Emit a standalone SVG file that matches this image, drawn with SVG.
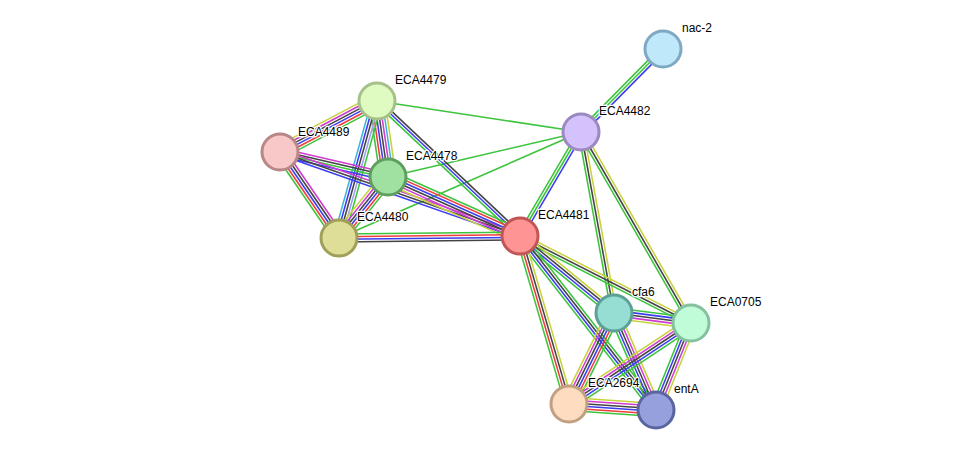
<svg xmlns="http://www.w3.org/2000/svg" width="976" height="456" viewBox="0 0 976 456">
<style>
.e path{fill:none;stroke-width:1.3}
.g{stroke:#3cc43c}.r{stroke:#f03c3c}.b{stroke:#3c3cf0}.k{stroke:#444444}.m{stroke:#d03cd0}.c{stroke:#3cb4dc}.y{stroke:#c8d23c}.l{stroke:#a0a0f0}
.n circle{stroke-width:3}
text{font-family:"Liberation Sans",Arial,sans-serif;font-size:12px;fill:#000;stroke:#fff;stroke-width:2.5;paint-order:stroke;stroke-linejoin:round}
</style>
<rect width="976" height="456" fill="#fff"/>
<g id="connectors" class="e">
<g transform="translate(663,49) rotate(134.65) scale(1,1.2)"><path class="b" d="M0 -2.2H116.7"/><path class="g" d="M0 0H116.7"/><path class="g" d="M0 2.2H116.7"/></g>
<g transform="translate(581,132) rotate(120.4) scale(1,1.2)"><path class="b" d="M0 -2.2H120.6"/><path class="g" d="M0 0H120.6"/><path class="g" d="M0 2.2H120.6"/></g>
<g transform="translate(581,132) rotate(-171.36) scale(1,1.2)"><path class="g" d="M0 0H206.3"/></g>
<g transform="translate(581,132) rotate(166.88) scale(1,1.2)"><path class="g" d="M0 0H198.2"/></g>
<g transform="translate(581,132) rotate(156.35) scale(1,1.2)"><path class="g" d="M0 0H264.2"/></g>
<g transform="translate(581,132) rotate(79.67) scale(1,1.2)"><path class="y" d="M0 -2.2H184"/><path class="k" d="M0 0H184"/><path class="g" d="M0 2.2H184"/></g>
<g transform="translate(581,132) rotate(60.07) scale(1,1.2)"><path class="y" d="M0 -2.2H220.4"/><path class="k" d="M0 0H220.4"/><path class="g" d="M0 2.2H220.4"/></g>
<g transform="translate(377,101) rotate(152.26) scale(1,1.2)"><path class="g" d="M0 -5.5H109.6"/><path class="r" d="M0 -3.3H109.6"/><path class="b" d="M0 -1.1H109.6"/><path class="k" d="M0 1.1H109.6"/><path class="m" d="M0 3.3H109.6"/><path class="y" d="M0 5.5H109.6"/></g>
<g transform="translate(377,101) rotate(81.76) scale(1,1.2)"><path class="y" d="M0 -6.6H76.8"/><path class="c" d="M0 -4.4H76.8"/><path class="m" d="M0 -2.2H76.8"/><path class="k" d="M0 0H76.8"/><path class="b" d="M0 2.2H76.8"/><path class="r" d="M0 4.4H76.8"/><path class="g" d="M0 6.6H76.8"/></g>
<g transform="translate(377,101) rotate(105.5) scale(1,1.2)"><path class="g" d="M0 -4.4H142.2"/><path class="l" d="M0 -2.2H142.2"/><path class="k" d="M0 0H142.2"/><path class="b" d="M0 2.2H142.2"/><path class="c" d="M0 4.4H142.2"/></g>
<g transform="translate(377,101) rotate(43.35) scale(1,1.2)"><path class="k" d="M0 -2.2H196.7"/><path class="b" d="M0 0H196.7"/><path class="g" d="M0 2.2H196.7"/></g>
<g transform="translate(280,152) rotate(13.03) scale(1,1.2)"><path class="m" d="M0 -3.3H110.9"/><path class="k" d="M0 -1.1H110.9"/><path class="g" d="M0 1.1H110.9"/><path class="b" d="M0 3.3H110.9"/></g>
<g transform="translate(280,152) rotate(19.29) scale(1,1.2)"><path class="m" d="M0 -2.2H254.3"/><path class="k" d="M0 0H254.3"/><path class="b" d="M0 2.2H254.3"/></g>
<g transform="translate(280,152) rotate(55.55) scale(1,1.2)"><path class="m" d="M0 -4.4H104.3"/><path class="k" d="M0 -2.2H104.3"/><path class="b" d="M0 0H104.3"/><path class="r" d="M0 2.2H104.3"/><path class="g" d="M0 4.4H104.3"/></g>
<g transform="translate(388,177) rotate(128.77) scale(1,1.2)"><path class="g" d="M0 -5.5H78.2"/><path class="r" d="M0 -3.3H78.2"/><path class="b" d="M0 -1.1H78.2"/><path class="k" d="M0 1.1H78.2"/><path class="m" d="M0 3.3H78.2"/><path class="y" d="M0 5.5H78.2"/></g>
<g transform="translate(388,177) rotate(24.08) scale(1,1.2)"><path class="g" d="M0 -5.5H144.6"/><path class="r" d="M0 -3.3H144.6"/><path class="b" d="M0 -1.1H144.6"/><path class="k" d="M0 1.1H144.6"/><path class="m" d="M0 3.3H144.6"/><path class="y" d="M0 5.5H144.6"/></g>
<g transform="translate(339,238) rotate(-0.63) scale(1,1.2)"><path class="g" d="M0 -3.3H181"/><path class="r" d="M0 -1.1H181"/><path class="b" d="M0 1.1H181"/><path class="k" d="M0 3.3H181"/></g>
<g transform="translate(520,236) rotate(26.97) scale(1,1.2)"><path class="y" d="M0 -2.2H191.9"/><path class="k" d="M0 0H191.9"/><path class="g" d="M0 2.2H191.9"/></g>
<g transform="translate(520,236) rotate(39.32) scale(1,1.2)"><path class="y" d="M0 -3.3H121.5"/><path class="k" d="M0 -1.1H121.5"/><path class="b" d="M0 1.1H121.5"/><path class="g" d="M0 3.3H121.5"/></g>
<g transform="translate(520,236) rotate(51.99) scale(1,1.2)"><path class="g" d="M0 -3.3H220.8"/><path class="k" d="M0 -1.1H220.8"/><path class="b" d="M0 1.1H220.8"/><path class="g" d="M0 3.3H220.8"/></g>
<g transform="translate(520,236) rotate(73.74) scale(1,1.2)"><path class="y" d="M0 -3.3H175"/><path class="k" d="M0 -1.1H175"/><path class="r" d="M0 1.1H175"/><path class="g" d="M0 3.3H175"/></g>
<g transform="translate(614,313) rotate(7.4) scale(1,1.2)"><path class="g" d="M0 -4.4H77.6"/><path class="b" d="M0 -2.2H77.6"/><path class="k" d="M0 0H77.6"/><path class="m" d="M0 2.2H77.6"/><path class="y" d="M0 4.4H77.6"/></g>
<g transform="translate(614,313) rotate(116.31) scale(1,1.2)"><path class="g" d="M0 -5.5H101.5"/><path class="r" d="M0 -3.3H101.5"/><path class="b" d="M0 -1.1H101.5"/><path class="k" d="M0 1.1H101.5"/><path class="m" d="M0 3.3H101.5"/><path class="y" d="M0 5.5H101.5"/></g>
<g transform="translate(614,313) rotate(66.59) scale(1,1.2)"><path class="y" d="M0 -4.4H105.7"/><path class="m" d="M0 -2.2H105.7"/><path class="k" d="M0 0H105.7"/><path class="b" d="M0 2.2H105.7"/><path class="g" d="M0 4.4H105.7"/></g>
<g transform="translate(691,323) rotate(146.42) scale(1,1.2)"><path class="g" d="M0 -4.4H146.4"/><path class="b" d="M0 -2.2H146.4"/><path class="k" d="M0 0H146.4"/><path class="m" d="M0 2.2H146.4"/><path class="y" d="M0 4.4H146.4"/></g>
<g transform="translate(691,323) rotate(111.92) scale(1,1.2)"><path class="y" d="M0 -4.4H93.8"/><path class="m" d="M0 -2.2H93.8"/><path class="k" d="M0 0H93.8"/><path class="b" d="M0 2.2H93.8"/><path class="g" d="M0 4.4H93.8"/></g>
<g transform="translate(569,404) rotate(3.95) scale(1,1.2)"><path class="y" d="M0 -5.5H87.2"/><path class="m" d="M0 -3.3H87.2"/><path class="k" d="M0 -1.1H87.2"/><path class="b" d="M0 1.1H87.2"/><path class="r" d="M0 3.3H87.2"/><path class="g" d="M0 5.5H87.2"/></g>
</g>
<g id="nac-2" class="n"><circle cx="663" cy="49" r="18" fill="#c0e8fb" stroke="#7fa8c2"/><text x="682" y="32">nac-2</text></g>
<g id="ECA4482" class="n"><circle cx="581" cy="132" r="18" fill="#d3c2fb" stroke="#9c89c0"/><text x="599" y="115">ECA4482</text></g>
<g id="ECA4479" class="n"><circle cx="377" cy="101" r="18" fill="#e0fbc2" stroke="#a5c089"/><text x="395" y="84">ECA4479</text></g>
<g id="ECA4489" class="n"><circle cx="280" cy="152" r="18" fill="#f8c8c8" stroke="#b88888"/><text x="298" y="136">ECA4489</text></g>
<g id="ECA4478" class="n"><circle cx="388" cy="177" r="18" fill="#a0e0a0" stroke="#5e9e5e"/><text x="406" y="160">ECA4478</text></g>
<g id="ECA4480" class="n"><circle cx="339" cy="238" r="18" fill="#dede98" stroke="#a0a05a"/><text x="357" y="221">ECA4480</text></g>
<g id="ECA4481" class="n"><circle cx="520" cy="236" r="18" fill="#ff9494" stroke="#c05656"/><text x="538" y="219">ECA4481</text></g>
<g id="cfa6" class="n"><circle cx="614" cy="313" r="18" fill="#96ddd3" stroke="#5ca096"/><text x="632" y="296">cfa6</text></g>
<g id="ECA0705" class="n"><circle cx="691" cy="323" r="18" fill="#c0fcd8" stroke="#85c0a0"/><text x="710" y="306">ECA0705</text></g>
<g id="ECA2694" class="n"><circle cx="569" cy="404" r="18" fill="#fddcc0" stroke="#c0a080"/><text x="588" y="387">ECA2694</text></g>
<g id="entA" class="n"><circle cx="656" cy="410" r="18" fill="#96a0dc" stroke="#5a64a0"/><text x="674" y="393">entA</text></g>
</svg>
